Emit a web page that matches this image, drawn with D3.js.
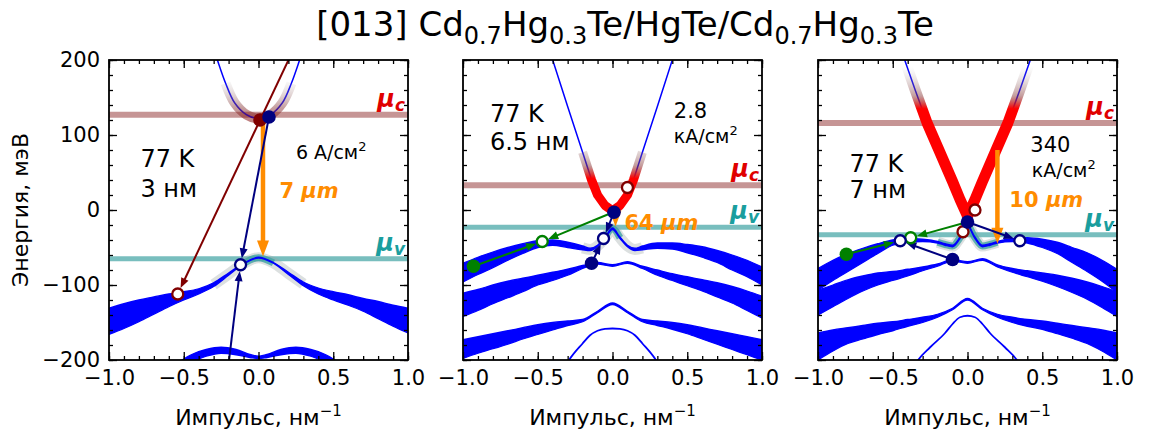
<!DOCTYPE html>
<html>
<head>
<meta charset="utf-8">
<script src="https://cdn.jsdelivr.net/npm/d3@7"></script>
<style>
body{margin:0;background:#fff}
svg{display:block;font-family:"DejaVu Sans",sans-serif}
</style>
</head>
<body>
<svg id="chart"></svg>
<script>
// ---- values ----
const kTicks = [-1, -0.5, 0, 0.5, 1];
const eTicks = [-200, -100, 0, 100, 200];
const muC = [127, 33, 116];
const muV = [-65, -23, -33];
const temps = ["77 K", "77 K", "77 K"];
const wells = ["3 нм", "6.5 нм", "7 нм"];
const currents = [["6 A/см"], ["2.8", "кА/см"], ["340", "кА/см"]];
const waves = ["7", "64", "10"];

// conduction bands [k, E]
const p1Cb = [[-0.3,215],[-0.275,200],[-0.22,169],[-0.16,143],[-0.08,127],[0,122],[0.08,127],[0.16,143],[0.22,169],[0.275,200],[0.3,215]];
const p2Cb = [[-0.45,231],[-0.4,200],[-0.3,138],[-0.2,77],[-0.14,40],[-0.1,20],[-0.05,6],[0,-1],[0.05,6],[0.1,20],[0.14,40],[0.2,77],[0.3,138],[0.4,200],[0.45,231]];
const p3Cb = [[-0.46,225],[-0.42,200],[-0.35,160],[-0.27,116],[-0.2,84],[-0.1,38],[-0.05,14],[0,-8],[0.05,14],[0.1,38],[0.2,84],[0.27,116],[0.35,160],[0.42,200],[0.46,225]];

// valence bands [k, upper E, lower E]
const p1Vb1 = [[-1,-131,-166],[-0.9,-125,-158],[-0.8,-120,-149],[-0.7,-116,-139],[-0.6,-112,-129],[-0.5,-109,-120],[-0.4,-105,-112],[-0.3,-97,-102],[-0.2,-84,-87],[-0.1,-71,-72],[0,-63,-64],[0.1,-70,-71],[0.2,-83,-86],[0.3,-96,-101],[0.4,-104,-112],[0.5,-109,-120],[0.6,-113,-127],[0.7,-118,-135],[0.8,-122,-145],[0.9,-127,-155],[1,-131,-164]];
const p1Vb2 = [[-0.55,-205,-212],[-0.45,-193,-203],[-0.35,-186,-195],[-0.25,-183,-191],[-0.15,-186,-193],[-0.05,-193,-197],[0,-195,-198],[0.05,-193,-197],[0.15,-186,-193],[0.25,-183,-191],[0.35,-186,-195],[0.45,-193,-203],[0.55,-205,-212]];

const p2Vb1 = [[-1,-71,-96],[-0.9,-63,-86],[-0.8,-56,-77],[-0.7,-50,-67],[-0.6,-45,-58],[-0.5,-41,-50],[-0.4,-40,-47],[-0.3,-43,-50],[-0.2,-48,-53],[-0.15,-51,-54],[-0.1,-47,-49],[-0.05,-36,-38],[0,-24,-26],[0.05,-36,-38],[0.1,-47,-49],[0.15,-51,-54],[0.2,-48,-53],[0.3,-44,-51],[0.4,-44,-52],[0.5,-46,-57],[0.6,-49,-63],[0.7,-54,-70],[0.8,-60,-80],[0.9,-67,-89],[1,-76,-100]];
const p2Vb2 = [[-1,-111,-142],[-0.9,-106,-134],[-0.8,-100,-125],[-0.7,-95,-117],[-0.6,-91,-109],[-0.5,-87,-100],[-0.4,-83,-94],[-0.3,-79,-87],[-0.2,-74,-78],[-0.1,-70,-72],[0,-73,-75],[0.1,-69,-71],[0.2,-75,-78],[0.3,-80,-87],[0.4,-85,-94],[0.5,-89,-101],[0.6,-93,-108],[0.7,-97,-116],[0.8,-102,-124],[0.9,-108,-134],[1,-115,-144]];
const p2Vb3 = [[-1,-173,-198],[-0.9,-169,-191],[-0.8,-165,-185],[-0.7,-161,-179],[-0.6,-157,-172],[-0.5,-153,-166],[-0.4,-150,-160],[-0.3,-148,-154],[-0.2,-146,-149],[-0.1,-135,-137],[0,-124,-126],[0.1,-135,-137],[0.2,-146,-149],[0.3,-148,-154],[0.4,-150,-159],[0.5,-153,-165],[0.6,-157,-172],[0.7,-161,-179],[0.8,-165,-186],[0.9,-169,-193],[1,-173,-200]];
const p2Lh = [[-0.32,-210],[-0.29,-200],[-0.2,-178],[-0.15,-167],[-0.1,-161],[-0.05,-158.5],[0,-158],[0.05,-158.5],[0.1,-161],[0.15,-167],[0.2,-178],[0.29,-200],[0.32,-210]];

const p3Vb1 = [[-1,-78,-107],[-0.9,-67,-94],[-0.8,-58,-82],[-0.7,-51,-70],[-0.6,-45,-58],[-0.5,-40,-47],[-0.4,-38,-43],[-0.3,-39,-42],[-0.2,-42,-44],[-0.15,-45,-47],[-0.1,-47,-49],[-0.05,-36,-38],[0,-20,-22],[0.05,-36,-38],[0.1,-47,-49],[0.15,-45,-47],[0.2,-42,-44],[0.3,-38,-42],[0.4,-37,-44],[0.5,-39,-50],[0.6,-43,-58],[0.7,-50,-70],[0.8,-57,-82],[0.9,-67,-95],[1,-79,-110]];
const p3Vb2 = [[-1,-107,-140],[-0.9,-100,-129],[-0.8,-93,-118],[-0.7,-88,-108],[-0.6,-84,-100],[-0.5,-82,-94],[-0.4,-79,-88],[-0.3,-76,-81],[-0.2,-72,-75],[-0.1,-66,-68],[0,-69,-71],[0.1,-65,-67],[0.2,-73,-76],[0.3,-78,-83],[0.4,-81,-89],[0.5,-84,-95],[0.6,-87,-102],[0.7,-91,-110],[0.8,-96,-119],[0.9,-102,-130],[1,-109,-142]];
const p3Vb3 = [[-1,-164,-200],[-0.9,-160,-188],[-0.8,-157,-178],[-0.7,-154,-172],[-0.6,-151,-166],[-0.5,-149,-161],[-0.4,-146,-155],[-0.3,-143,-150],[-0.2,-139,-143],[-0.1,-131,-133],[0,-118,-120],[0.1,-131,-133],[0.2,-139,-143],[0.3,-143,-150],[0.4,-146,-155],[0.5,-148,-159],[0.6,-151,-165],[0.7,-154,-171],[0.8,-157,-178],[0.9,-160,-188],[1,-164,-200]];
const p3Lh = [[-0.36,-210],[-0.33,-200],[-0.25,-183],[-0.15,-164],[-0.1,-152],[-0.05,-143],[0,-141],[0.05,-143],[0.1,-152],[0.15,-164],[0.25,-183],[0.33,-200],[0.36,-210]];

// transitions: [k1, E1, k2, E2, kind]
const p1Arrows = [[0.21,204,-0.54,-112,"maroon"],[0.07,124,-0.12,-73,"navy"],[-0.2,-205,-0.12,-73,"navy"]];
const p2Arrows = [[-0.93,-75,-0.47,-42,"green"],[-0.02,-5,-0.47,-42,"green"],[-0.14,-71,-0.06,-38,"navy"],[0.01,-3,-0.06,-38,"navy"]];
const p3Arrows = [[-0.81,-59,-0.45,-41,"green"],[0,-16,-0.38,-37,"green"],[-0.1,-66,-0.45,-41,"navy"],[0,-16,0.35,-41,"navy"]];
// photon emission: [k, E from, E to]
const p1Photon = [[0.03,117,-62]];
const p2Photon = [[0.02,-6,-22]];
const p3Photon = [[0.2,80,-45]];
// states: [k, E, kind, filled]
const p1Dots = [[-0.54,-112,"maroon",0],[-0.12,-73,"navy",0],[0.01,120,"maroon",1],[0.07,124,"navy",1]];
const p2Dots = [[0.1,30,"maroon",0],[-0.93,-75,"green",1],[-0.47,-42,"green",0],[-0.06,-38,"navy",0],[-0.14,-71,"navy",1],[0.01,-3,"navy",1]];
const p3Dots = [[0.05,0,"maroon",0],[-0.03,-29,"maroon",0],[-0.81,-59,"green",1],[-0.38,-37,"green",0],[-0.45,-41,"navy",0],[0.35,-41,"navy",0],[-0.1,-66,"navy",1],[0,-16,"navy",1]];

// ---- layout ----
var W = 1149, H = 436;
var panelLeft = [109, 463, 818], panelW = 299, panelTop = 60, panelH = 300;
var kindColor = {navy:"#000080", maroon:"#800000", green:"#008000"};
var orange = "#ff8c00", bandBlue = "#0000ff";

var panels = [
  {cb:p1Cb, cbCurve:d3.curveCatmullRom.alpha(0.5), thick:[p1Vb1,p1Vb2], thin:[], arrows:p1Arrows, photon:p1Photon, dots:p1Dots,
   cbFade:{kMax:0.24, Ered:118, Etop:178, c0:"#800000", op:0.5, w:10},
   vbShade:{kGray:0.32, kTeal:0.16},
   txt:{temp:[-0.79,57], well:[-0.79,17], cur:[0.25,68], wave:[0.14,16]}},
  {cb:p2Cb, cbCurve:d3.curveLinear, thick:[p2Vb1,p2Vb2,p2Vb3], thin:[p2Lh], arrows:p2Arrows, photon:p2Photon, dots:p2Dots,
   cbFade:{kMax:0.22, Ered:42, Etop:100, c0:"#ff0000", op:1, w:9},
   vbShade:{kGray:0.25, kTeal:0.08},
   txt:{temp:[-0.82,117], well:[-0.82,80], cur:[0.41,123], cur2:[0.41,89], wave:[0.08,-27]}},
  {cb:p3Cb, cbCurve:d3.curveLinear, thick:[p3Vb1,p3Vb2,p3Vb3], thin:[p3Lh], arrows:p3Arrows, photon:p3Photon, dots:p3Dots,
   cbFade:{kMax:0.42, Ered:135, Etop:192, c0:"#ff0000", op:1, w:11},
   vbShade:{kGray:0.25, kTeal:0.2},
   txt:{temp:[-0.79,51], well:[-0.79,16], cur:[0.42,77], cur2:[0.43,44], wave:[0.28,4]}}
];

var svg = d3.select('#chart').attr('width', W).attr('height', H);
svg.append('rect').attr('width', W).attr('height', H).attr('fill', 'white');
var defs = svg.append('defs');

// title
var title = svg.append('text').attr('x', 625).attr('y', 36).attr('text-anchor', 'middle')
  .attr('font-size', 34).attr('fill', '#000');
[["[013] Cd",0],["0.7",1],["Hg",0],["0.3",1],["Te/HgTe/Cd",0],["0.7",1],["Hg",0],["0.3",1],["Te",0]].forEach(function(p, i){
  var t = title.append('tspan').text(p[0]);
  if (p[1]) t.attr('font-size', 24).attr('dy', 8);
  else if (i > 0) t.attr('dy', -8);
});

function drawArrow(g, x1, y1, x2, y2, color, lw, headL, headW, shorten){
  var dx = x2 - x1, dy = y2 - y1, len = Math.sqrt(dx*dx + dy*dy);
  var ux = dx/len, uy = dy/len;
  var tx = x2 - ux*shorten, ty = y2 - uy*shorten;
  var bx = tx - ux*headL, by = ty - uy*headL;
  g.append('line').attr('x1', x1).attr('y1', y1).attr('x2', bx + ux).attr('y2', by + uy)
    .attr('stroke', color).attr('stroke-width', lw);
  g.append('path')
    .attr('d', 'M' + tx + ',' + ty + 'L' + (bx - uy*headW/2) + ',' + (by + ux*headW/2) + 'L' + (bx + uy*headW/2) + ',' + (by - ux*headW/2) + 'Z')
    .attr('fill', color);
}

panels.forEach(function(p, i){
  var x = d3.scaleLinear().domain([-1, 1]).range([panelLeft[i], panelLeft[i] + panelW]);
  var y = d3.scaleLinear().domain([-200, 200]).range([panelTop + panelH, panelTop]);
  var g = svg.append('g');

  defs.append('clipPath').attr('id', 'clip' + i).append('rect')
    .attr('x', panelLeft[i]).attr('y', panelTop).attr('width', panelW).attr('height', panelH);
  var pg = g.append('g').attr('clip-path', 'url(#clip' + i + ')');

  // chemical potentials
  pg.append('line').attr('x1', x(-1)).attr('x2', x(1)).attr('y1', y(muC[i])).attr('y2', y(muC[i]))
    .attr('stroke', '#a85c5c').attr('stroke-opacity', 0.65).attr('stroke-width', 6);
  pg.append('line').attr('x1', x(-1)).attr('x2', x(1)).attr('y1', y(muV[i])).attr('y2', y(muV[i]))
    .attr('stroke', '#3fa3a3').attr('stroke-opacity', 0.7).attr('stroke-width', 5);

  var line = d3.line().x(function(d){ return x(d[0]); }).y(function(d){ return y(d[1]); }).curve(d3.curveMonotoneX);
  var cbLine = d3.line().x(function(d){ return x(d[0]); }).y(function(d){ return y(d[1]); }).curve(p.cbCurve);
  var area = d3.area().x(function(d){ return x(d[0]); }).y0(function(d){ return y(d[2]); }).y1(function(d){ return y(d[1]); }).curve(d3.curveMonotoneX);
  var mid = function(b){ return b.map(function(d){ return [d[0], (d[1] + d[2]) / 2]; }); };

  // occupation shading of the top valence band
  var vb = mid(p.thick[0]);
  pg.append('path').attr('d', line(vb.filter(function(d){ return Math.abs(d[0]) <= p.vbShade.kGray; })))
    .attr('fill', 'none').attr('stroke', '#9aa5a5').attr('stroke-opacity', 0.35).attr('stroke-width', 11);
  pg.append('path').attr('d', line(vb.filter(function(d){ return Math.abs(d[0]) <= p.vbShade.kTeal; })))
    .attr('fill', 'none').attr('stroke', '#3fa3a3').attr('stroke-opacity', 0.8).attr('stroke-width', 7);

  // bands
  p.thick.forEach(function(b){
    pg.append('path').attr('d', area(b)).attr('fill', bandBlue).attr('stroke', bandBlue).attr('stroke-width', 1.3);
  });
  p.thin.forEach(function(b){
    pg.append('path').attr('d', line(b)).attr('fill', 'none').attr('stroke', bandBlue).attr('stroke-width', 1.8);
  });
  pg.append('path').attr('d', cbLine(p.cb)).attr('fill', 'none').attr('stroke', bandBlue).attr('stroke-width', 1.5);

  // occupation shading of the conduction band (drawn over the band line)
  var f = p.cbFade;
  var gy0 = y(f.Ered - 40), gy1 = y(f.Etop), off = (y(f.Ered) - gy0) / (gy1 - gy0);
  var grad = defs.append('linearGradient').attr('id', 'cbg' + i).attr('gradientUnits', 'userSpaceOnUse')
    .attr('x1', 0).attr('x2', 0).attr('y1', gy0).attr('y2', gy1);
  grad.append('stop').attr('offset', 0).attr('stop-color', f.c0).attr('stop-opacity', f.op);
  grad.append('stop').attr('offset', off).attr('stop-color', f.c0).attr('stop-opacity', f.op);
  grad.append('stop').attr('offset', off + (1 - off) * 0.3).attr('stop-color', '#8a3a3a').attr('stop-opacity', 0.5);
  grad.append('stop').attr('offset', 1).attr('stop-color', '#b0b0b0').attr('stop-opacity', 0);
  var cbPart = p.cb.filter(function(d){ return Math.abs(d[0]) <= f.kMax; });
  pg.append('path').attr('d', cbLine(cbPart)).attr('fill', 'none')
    .attr('stroke', 'url(#cbg' + i + ')').attr('stroke-width', f.w).attr('stroke-linejoin', 'round');

  // photon emission
  p.photon.forEach(function(d){
    drawArrow(pg, x(d[0]), y(d[1]), x(d[0]), y(d[2]), orange, 4.5, 16, 12, 0);
  });
  // Auger / phonon transitions
  p.arrows.forEach(function(d){
    drawArrow(pg, x(d[0]), y(d[1]), x(d[2]), y(d[3]), kindColor[d[4]], 2, 10, 8, 6.5);
  });
  // states
  p.dots.forEach(function(d){
    var c = kindColor[d[2]];
    if (d[3]) pg.append('circle').attr('cx', x(d[0])).attr('cy', y(d[1])).attr('r', 6.8).attr('fill', c);
    else pg.append('circle').attr('cx', x(d[0])).attr('cy', y(d[1])).attr('r', 5.5).attr('fill', 'white').attr('stroke', c).attr('stroke-width', 2.3);
  });

  // texts
  var t = p.txt;
  g.append('text').attr('x', x(t.temp[0])).attr('y', y(t.temp[1])).attr('font-size', 24).text(temps[i]);
  g.append('text').attr('x', x(t.well[0])).attr('y', y(t.well[1])).attr('font-size', 24).text(wells[i]);
  var last = currents[i].length - 1;
  currents[i].forEach(function(s, j){
    var pos = j === 0 ? t.cur : t.cur2;
    var tx = g.append('text').attr('x', x(pos[0])).attr('y', y(pos[1])).attr('font-size', j === last ? 19 : 21);
    tx.append('tspan').text(s);
    if (j === last) tx.append('tspan').attr('font-size', 13).attr('dy', -8).text('2');
  });
  var wv = g.append('text').attr('x', x(t.wave[0])).attr('y', y(t.wave[1])).attr('font-size', 21)
    .attr('font-weight', 'bold').attr('fill', orange);
  wv.append('tspan').text(waves[i] + ' ');
  wv.append('tspan').attr('font-style', 'italic').text('μm');

  // mu labels
  [[muC[i], 'c', '#e00000'], [muV[i], 'v', '#1a9e9e']].forEach(function(m){
    var tx = g.append('text').attr('x', x(1) - 3).attr('y', y(m[0]) - 8).attr('text-anchor', 'end')
      .attr('font-size', 24).attr('font-weight', 'bold').attr('font-style', 'italic').attr('fill', m[2]);
    tx.append('tspan').text('μ');
    tx.append('tspan').attr('font-size', 17).attr('dy', 4).text(m[1]);
  });

  // axes: inward ticks on all four sides
  var minorK = d3.range(-10, 11).map(function(v){ return v / 10; });
  var minorE = d3.range(-10, 11).map(function(v){ return v * 20; });
  var yb = panelTop + panelH, xr = panelLeft[i] + panelW;
  var ax = g.append('g');
  ax.append('g').attr('transform', 'translate(0,' + yb + ')')
    .call(d3.axisBottom(x).tickValues(minorK).tickSize(-4).tickFormat(''));
  ax.append('g').attr('transform', 'translate(0,' + yb + ')')
    .call(d3.axisBottom(x).tickValues(kTicks).tickSize(-8).tickPadding(10).tickFormat(d3.format('.1f')));
  ax.append('g').attr('transform', 'translate(0,' + panelTop + ')')
    .call(d3.axisTop(x).tickValues(minorK).tickSize(-4).tickFormat(''));
  ax.append('g').attr('transform', 'translate(0,' + panelTop + ')')
    .call(d3.axisTop(x).tickValues(kTicks).tickSize(-8).tickFormat(''));
  ax.append('g').attr('transform', 'translate(' + panelLeft[i] + ',0)')
    .call(d3.axisLeft(y).tickValues(minorE).tickSize(-4).tickFormat(''));
  ax.append('g').attr('transform', 'translate(' + panelLeft[i] + ',0)')
    .call(d3.axisLeft(y).tickValues(eTicks).tickSize(-8).tickPadding(9).tickFormat(i === 0 ? d3.format('d') : ''));
  ax.append('g').attr('transform', 'translate(' + xr + ',0)')
    .call(d3.axisRight(y).tickValues(minorE).tickSize(-4).tickFormat(''));
  ax.append('g').attr('transform', 'translate(' + xr + ',0)')
    .call(d3.axisRight(y).tickValues(eTicks).tickSize(-8).tickFormat(''));
  ax.selectAll('.domain').remove();
  ax.selectAll('.tick line').attr('stroke', '#000').attr('stroke-width', 1.3);
  ax.selectAll('g').attr('font-size', 21).attr('font-family', '"DejaVu Sans",sans-serif');
  ax.selectAll('text').attr('fill', '#000');
  g.append('rect').attr('x', panelLeft[i]).attr('y', panelTop).attr('width', panelW).attr('height', panelH)
    .attr('fill', 'none').attr('stroke', '#000').attr('stroke-width', 1.8);

  var xl = g.append('text').attr('x', x(0)).attr('y', 425).attr('text-anchor', 'middle').attr('font-size', 22);
  xl.append('tspan').text('Импульс, нм');
  xl.append('tspan').attr('font-size', 15).attr('dy', -9).text('−1');
});

svg.append('text').attr('transform', 'translate(28,210) rotate(-90)').attr('text-anchor', 'middle')
  .attr('font-size', 22).text('Энергия, мэВ');
</script>
</body>
</html>
